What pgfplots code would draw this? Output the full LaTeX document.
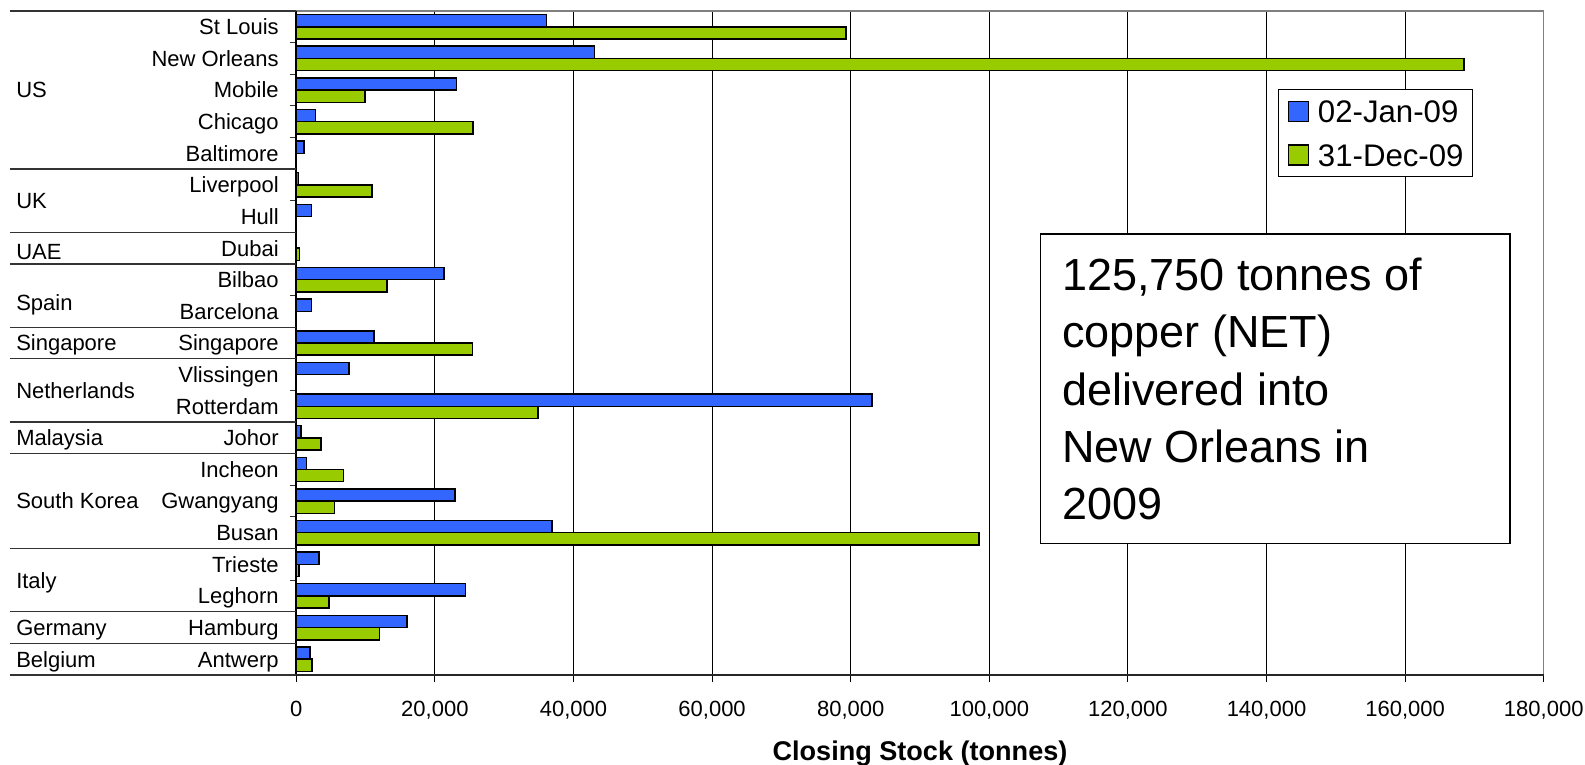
\documentclass[border=0pt]{standalone}
\usepackage{fontspec}
\setmainfont{Liberation Sans}
\usepackage{pgfplots}
\pgfplotsset{compat=1.18}
\definecolor{cblue}{HTML}{3366FF}
\definecolor{cgreen}{HTML}{99CC00}
\newcommand{\lab}{\fontsize{16.5}{19}\selectfont}
\newcommand{\grp}[1]{\draw[black!80, line width=0.9pt] ([xshift=-214.7pt]axis cs:0,#1) -- (axis cs:0,#1);}
\newcommand{\ctry}[2]{\node[anchor=base west, font=\lab, inner sep=0pt] at ([xshift=-210.2pt, yshift=-5.9pt]axis cs:0,#1) {#2};}
\begin{document}
\begin{tikzpicture}
\path[use as bounding box] (0,0) rectangle (1188.75pt,573pt);
\begin{axis}[
  at={(222.2pt,66.75pt)}, anchor=south west,
  scale only axis, width=935.6pt, height=498pt,
  xbar, bar width=0.386,
  clip=false,
  xmin=0, xmax=180000, ymin=-0.5, ymax=20.5,
  xtick={0,20000,40000,60000,80000,100000,120000,140000,160000,180000},
  scaled x ticks=false,
  xtick pos=lower, ytick pos=left,
  tick align=outside,
  major tick length=5.5pt,
  minor tick length=4.5pt,
  xtick style={black, line width=0.75pt},
  major y tick style={draw=none},
  minor y tick style={black!80, line width=0.75pt},
  xmajorgrids,
  major grid style={black, line width=0.7pt},
  axis line style={draw=gray, line width=0.9pt},
  xticklabel style={/pgf/number format/fixed, /pgf/number format/1000 sep={,}, /pgf/number format/assume math mode=true, font=\lab, inner sep=0pt},
  xticklabel shift=13.6pt,
  ytick={0,1,2,3,4,5,6,7,8,9,10,11,12,13,14,15,16,17,18,19,20},
  yticklabels={Antwerp,Hamburg,Leghorn,Trieste,Busan,Gwangyang,Incheon,Johor,Rotterdam,Vlissingen,Singapore,Barcelona,Bilbao,Dubai,Hull,Liverpool,Baltimore,Chicago,Mobile,New Orleans,St Louis},
  yticklabel style={font=\lab, inner sep=0pt, anchor=base east, yshift=-5.9pt},
  yticklabel shift=7.5pt,
  minor ytick={-0.5,0.5,1.5,2.5,3.5,4.5,5.5,6.5,7.5,8.5,9.5,10.5,11.5,12.5,13.5,14.5,15.5,16.5,17.5,18.5,19.5,20.5},
  xlabel={Closing Stock (tonnes)},
  xlabel style={font=\fontsize{20.3}{23}\selectfont\bfseries, at={(axis description cs:0.5,-0.1285)}, anchor=base, inner sep=0pt},
  legend image code/.code={\draw[#1, line width=1pt] (0pt,-7.5pt) rectangle (15pt,7.5pt); \path (21.75pt,0pt);},
  legend cell align=left,
  legend style={at={(0.787,0.8825)}, anchor=north west, draw=black, line width=0.75pt, fill=white,
    inner xsep=6.75pt, inner ysep=8pt, row sep=16pt,
    font=\fontsize{23.4}{28}\selectfont,
    nodes={inner sep=0pt, text height=16.8pt, text depth=0pt}},
]
\addplot[fill=cblue, draw=black, line width=1.1pt, bar shift=0.193] coordinates {
(36100,20) (43000,19) (23100,18) (2800,17) (1100,16) (300,15) (2200,14)
(21300,12) (2200,11) (11200,10) (7600,9) (83100,8) (700,7) (1500,6)
(22900,5) (36900,4) (3300,3) (24400,2) (16000,1) (2000,0)};
\addplot[fill=cgreen, draw=black, line width=1.1pt, bar shift=-0.193] coordinates {
(79300,20) (168500,19) (9900,18) (25500,17) (10900,15) (500,13)
(13100,12) (25400,10) (34900,8) (3600,7) (6800,6)
(5500,5) (98500,4) (400,3) (4700,2) (12000,1) (2300,0)};
\legend{02-Jan-09,31-Dec-09}
\draw[black, line width=1.3pt] (rel axis cs:0,0) -- (rel axis cs:0,1);
\draw[black!85, line width=1.3pt] (rel axis cs:0,0) -- (rel axis cs:1,0);
\grp{20.5}\grp{15.5}\grp{13.5}\grp{12.5}\grp{10.5}\grp{9.5}
\grp{7.5}\grp{6.5}\grp{3.5}\grp{1.5}\grp{0.5}\grp{-0.5}
\ctry{18}{US}\ctry{14.5}{UK}\ctry{12.89}{UAE}\ctry{11.27}{Spain}
\ctry{10}{Singapore}\ctry{8.5}{Netherlands}\ctry{7}{Malaysia}
\ctry{5}{South Korea}\ctry{2.5}{Italy}\ctry{1}{Germany}\ctry{0}{Belgium}
\end{axis}
\draw[line width=1.1pt, fill=white] (780.5pt,165.5pt) rectangle (1132.5pt,397.5pt);
\node[anchor=north west, align=left, inner sep=0pt, font=\fontsize{33.75}{42.9}\selectfont] at (796.3pt,379.6pt) {125,750 tonnes of\\copper (NET)\\delivered into\\New Orleans in\\2009};
\end{tikzpicture}
\end{document}
